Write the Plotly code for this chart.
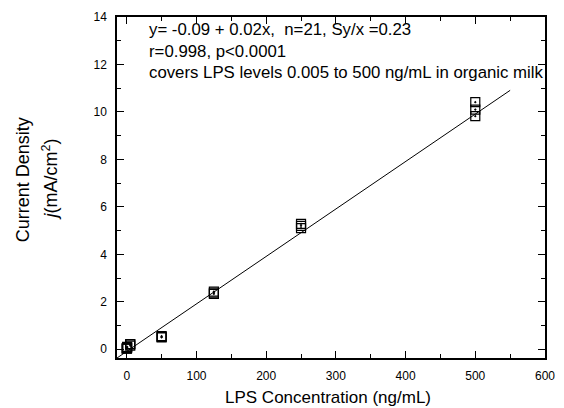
import plotly.graph_objects as go
import numpy as np

# Data (ng/mL, mA/cm^2)
conc = [0.005, 0.005, 0.005, 0.5, 0.5, 0.5, 5, 5, 5, 50, 50, 50,
        125, 125, 125, 250, 250, 250, 500, 500, 500]
current = [0.02, 0.03, 0.05, 0.05, 0.08, 0.10, 0.15, 0.20, 0.22, 0.50, 0.52, 0.55,
           2.33, 2.38, 2.43, 5.10, 5.20, 5.28, 9.82, 10.10, 10.41]
fit_intercept = -0.09
fit_slope = 0.02
fit_x_range = [-14, 550]
ann_lines = ["y= -0.09 + 0.02x,  n=21, Sy/x =0.23",
             "r=0.998, p<0.0001",
             "covers LPS levels 0.005 to 500 ng/mL in organic milk"]

fit_x = np.array(fit_x_range)
fit_y = fit_intercept + fit_slope * fit_x

fig = go.Figure()
fig.add_trace(go.Scatter(x=fit_x, y=fit_y, mode="lines",
                         line=dict(color="black", width=1), showlegend=False))
fig.add_trace(go.Scatter(x=conc, y=current, mode="markers",
                         marker=dict(symbol="square-open-dot", size=9,
                                     color="black", line=dict(width=1.2, color="black")),
                         showlegend=False))

font = "Liberation Sans, Arial, sans-serif"
axis_common = dict(showline=True, linecolor="black", linewidth=1.5, mirror="allticks",
                   ticks="inside", ticklen=7, tickwidth=1.2, tickcolor="black",
                   showgrid=False, zeroline=False,
                   tickfont=dict(family=font, size=12, color="black"))

fig.update_xaxes(range=[-14, 600], dtick=100, tick0=0,
                 minor=dict(dtick=50, ticks="inside", ticklen=4, tickcolor="black", tickwidth=1.2),
                 ticklabelstandoff=6,
                 **axis_common)
fig.update_yaxes(range=[-0.37, 14], dtick=2, tick0=0,
                 minor=dict(dtick=1, ticks="inside", ticklen=4, tickcolor="black", tickwidth=1.2),
                 ticklabelstandoff=6,
                 **axis_common)

W, H = 564, 408
L, R, T, B = 117, 9, 17, 50
pw, ph = W - L - R, H - T - B


def px(x, y):
    return (x - L) / pw, 1 - (y - T) / ph


def add_text(x, y, text, size, angle=0, xanchor="center"):
    ax, ay = px(x, y)
    fig.add_annotation(x=ax, y=ay, xref="paper", yref="paper", text=text,
                       showarrow=False, xanchor=xanchor, yanchor="middle",
                       textangle=angle,
                       font=dict(family=font, size=size, color="black"))


for i, t in enumerate(ann_lines):
    add_text(148, 30 + 21.5 * i, t, 16.8, xanchor="left")

add_text(333, 398, "LPS Concentration (ng/mL)", 17)
add_text(21, 180, "Current Density", 18, angle=-90)
add_text(48, 180, "<i>j</i>(mA/cm<sup>2</sup>)", 18, angle=-90)

fig.update_layout(width=W, height=H, margin=dict(l=L, r=R, t=T, b=B),
                  plot_bgcolor="white", paper_bgcolor="white",
                  font=dict(family=font, color="black"))
fig.write_html("out.html")
